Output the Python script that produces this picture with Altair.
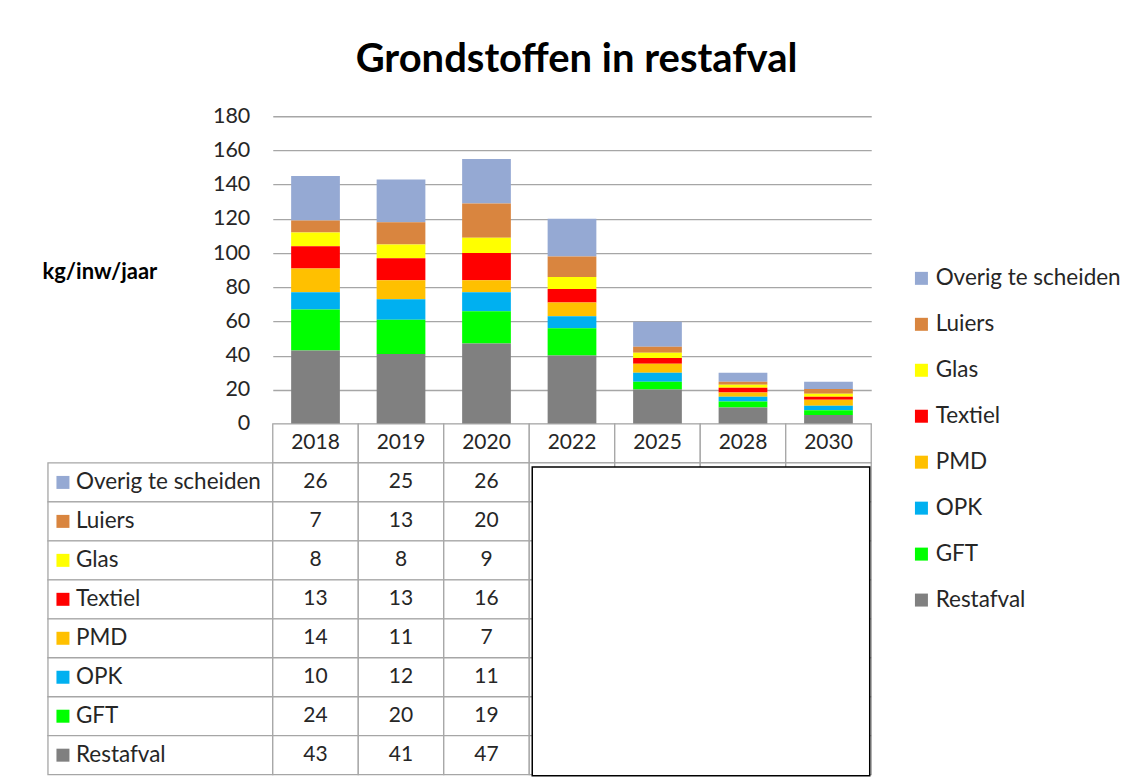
import altair as alt
import pandas as pd

# ---------------- data ----------------
years = ["2018", "2019", "2020", "2022", "2025", "2028", "2030"]
table_years = ["2018", "2019", "2020"]
categories = ["Overig te scheiden", "Luiers", "Glas", "Textiel", "PMD", "OPK", "GFT", "Restafval"]
colors = ["#95A9D3", "#D9853F", "#FFFF00", "#FF0000", "#FFC000", "#00B0F0", "#00FF00", "#808080"]

overig = [26, 25, 26, 22, 14.7, 5.2, 4.3]
luiers = [7, 13, 20, 12, 3.5, 1.8, 2.7]
glas = [8, 8, 9, 7, 3.0, 1.7, 1.8]
textiel = [13, 13, 16, 8, 3.3, 2.8, 1.7]
pmd = [14, 11, 7, 8, 5.3, 2.5, 3.5]
opk = [10, 12, 11, 7, 5.3, 2.7, 2.7]
gft = [24, 20, 19, 16, 4.5, 3.5, 2.8]
restafval = [43, 41, 47, 40, 20.2, 9.7, 5.2]

y_ticks = [0, 20, 40, 60, 80, 100, 120, 140, 160, 180]

series = [overig, luiers, glas, textiel, pmd, opk, gft, restafval]

# ---------------- tables built from the arrays ----------------
rows = []
for ci, (cat, vals) in enumerate(zip(categories, series)):
    for yi, yr in enumerate(years):
        rows.append({"year": yr, "cat": cat, "value": vals[yi],
                     "stack": len(categories) - 1 - ci})
df = pd.DataFrame(rows)

table_rows = ["hdr"] + categories
cells = pd.DataFrame([{"year": y, "row": r} for r in table_rows for y in years])
hdr_df = pd.DataFrame({"year": years, "row": ["hdr"] * len(years)})
val_df = pd.DataFrame([
    {"year": yr, "row": cat, "txt": str(int(round(vals[years.index(yr)])))}
    for cat, vals in zip(categories, series) for yr in table_years
])
mask_df = pd.DataFrame([{"x0": years[3], "x1": years[-1],
                         "y0": categories[0], "y1": categories[-1]}])
lab_df = pd.DataFrame({"row": categories})

# ---------------- sizes ----------------
W = 599
H = 308
LABW = 225
ROWH = 39
TH = ROWH * len(table_rows)
BAND = W / len(years)

FONT = "Lato"
TXT = "#262626"
GRID = "#A6A6A6"
LBL = 22.5
NUM = 21

xscale = alt.Scale(domain=years, paddingInner=0, paddingOuter=0)
yscale_t = alt.Scale(domain=table_rows, paddingInner=0, paddingOuter=0)

# ---------------- stacked bars ----------------
bars = alt.Chart(df).mark_bar(width=alt.RelativeBandSize(0.57)).encode(
    x=alt.X("year:N", scale=xscale, axis=None),
    y=alt.Y("value:Q", stack="zero",
            scale=alt.Scale(domain=[0, 180], nice=False),
            axis=alt.Axis(values=y_ticks, title="kg/inw/jaar", titleAngle=0,
                          titleX=-231, titleY=162, titleAlign="left",
                          titleBaseline="alphabetic", titleFontSize=22,
                          titleFontWeight="bold", titleColor="#000000",
                          labelFontSize=21.5, labelColor=TXT, labelPadding=23,
                          ticks=False, domain=False, grid=True,
                          gridColor=GRID, gridWidth=1.3)),
    color=alt.Color("cat:N", scale=alt.Scale(domain=categories, range=colors),
                    legend=alt.Legend(title=None, orient="none", legendX=638,
                                      legendY=151, symbolType="square",
                                      symbolSize=169, symbolStrokeWidth=0,
                                      labelFontSize=LBL, labelColor=TXT,
                                      labelOffset=3, rowPadding=23,
                                      labelLimit=400)),
    order=alt.Order("stack:Q", sort="ascending"),
    tooltip=["year:N", "cat:N", "value:Q"],
).properties(width=W, height=H)

# ---------------- empty top-left cell ----------------
empty = alt.Chart(pd.DataFrame({"a": [0]})).mark_point(opacity=0).encode(
    x=alt.value(0), y=alt.value(0)
).properties(width=LABW, height=H)

# ---------------- row header column ----------------
lab_base = alt.Chart(lab_df).encode(
    y=alt.Y("row:N", scale=yscale_t, axis=None)
)
lab_rect = lab_base.mark_rect(fill="white", stroke=GRID, strokeWidth=1.3).encode(
    x=alt.value(0), x2=alt.value(LABW)
)
lab_sq = lab_base.mark_square(size=169, opacity=1).encode(
    x=alt.value(15),
    color=alt.Color("row:N", scale=alt.Scale(domain=categories, range=colors), legend=None),
)
lab_txt = lab_base.mark_text(align="left", baseline="middle", fontSize=LBL, color=TXT).encode(
    x=alt.value(28), text="row:N"
)
header_col = alt.layer(lab_rect, lab_sq, lab_txt).properties(width=LABW, height=TH)

# ---------------- data table ----------------
t_rect = alt.Chart(cells).mark_rect(fill="white", stroke=GRID, strokeWidth=1.3).encode(
    x=alt.X("year:N", scale=xscale, axis=None),
    y=alt.Y("row:N", scale=yscale_t, axis=None),
)
t_hdr = alt.Chart(hdr_df).mark_text(fontSize=NUM, color=TXT, baseline="middle").encode(
    x=alt.X("year:N", scale=xscale, axis=None),
    y=alt.Y("row:N", scale=yscale_t, axis=None),
    text="year:N",
)
t_val = alt.Chart(val_df).mark_text(fontSize=NUM, color=TXT, baseline="middle").encode(
    x=alt.X("year:N", scale=xscale, axis=None),
    y=alt.Y("row:N", scale=yscale_t, axis=None),
    text="txt:N",
)
t_mask = alt.Chart(mask_df).mark_rect(
    fill="white", stroke="#000000", strokeWidth=1.5,
    xOffset=3, x2Offset=BAND / 2 - 1.5, yOffset=4, y2Offset=ROWH / 2 + 1
).encode(
    x=alt.X("x0:N", scale=xscale, axis=None, bandPosition=0),
    x2="x1:N",
    y=alt.Y("y0:N", scale=yscale_t, axis=None, bandPosition=0),
    y2="y1:N",
)
table = alt.layer(t_rect, t_hdr, t_val, t_mask).properties(width=W, height=TH)

chart = alt.concat(
    empty, bars, header_col, table,
    columns=2, spacing=0, bounds="flush", align="each",
).resolve_scale(color="independent", x="independent", y="independent").properties(
    title=alt.Title("Grondstoffen in restafval", fontSize=40, fontWeight="bold",
                    color="#000000", anchor="middle", frame="bounds", offset=25,
                    dx=-5),
    padding={"left": 34, "top": 32, "right": 5, "bottom": 5},
).configure(font=FONT).configure_view(stroke=None)

chart.save("out.html", embed_options={"renderer": "svg", "actions": False})
